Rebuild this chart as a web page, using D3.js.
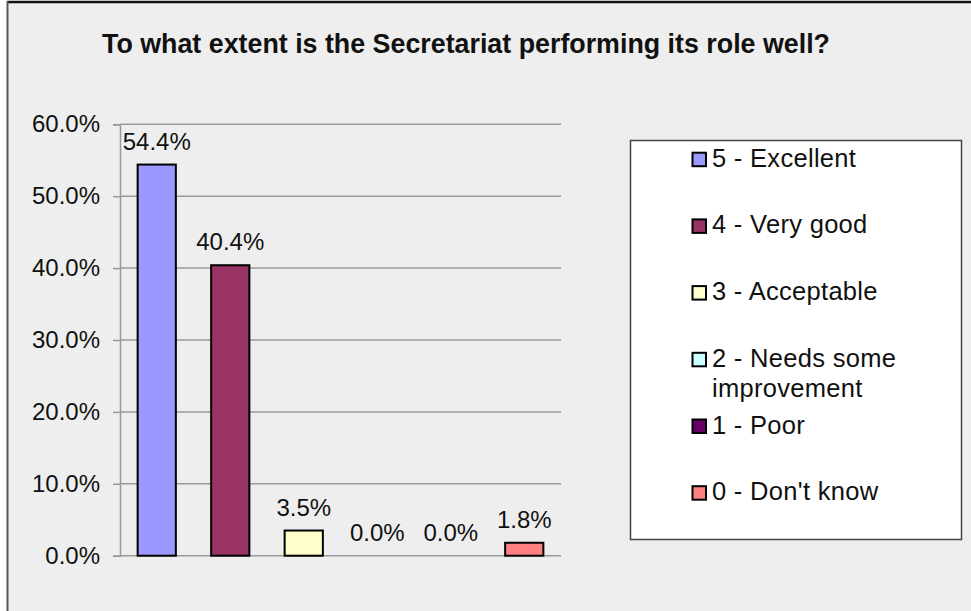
<!DOCTYPE html>
<html>
<head>
<meta charset="utf-8">
<script src="https://cdn.jsdelivr.net/npm/d3@7"></script>
<style>
  body { margin: 0; background: #fff; }
  text { font-family: "Liberation Sans", Arial, sans-serif; fill: #111; }
</style>
</head>
<body>
<svg id="chart" width="971" height="611"></svg>
<script>
// chart data
const categories = ["5 - Excellent", "4 - Very good", "3 - Acceptable", "2 - Needs some improvement", "1 - Poor", "0 - Don't know"];
const values = [0.544, 0.404, 0.035, 0.0, 0.0, 0.018];
const colors = ["#9999ff", "#993366", "#ffffcc", "#ccffff", "#660066", "#ff8080"];
const legendLines = [["5 - Excellent"], ["4 - Very good"], ["3 - Acceptable"], ["2 - Needs some", "improvement"], ["1 - Poor"], ["0 - Don't know"]];
const yTicks = [0, 0.1, 0.2, 0.3, 0.4, 0.5, 0.6];
const title = "To what extent is the Secretariat performing its role well?";

const svg = d3.select("#chart");
const fmt = d3.format(".1%");

// chart frame (cut off at right / bottom)
svg.append("rect").attr("x", 8).attr("y", 2).attr("width", 980).attr("height", 620).attr("fill", "#eeeeee");
svg.append("line").attr("x1", 7).attr("x2", 971).attr("y1", 2).attr("y2", 2).attr("stroke", "#111").attr("stroke-width", 2.5);
svg.append("line").attr("x1", 7.5).attr("x2", 7.5).attr("y1", 1).attr("y2", 611).attr("stroke", "#555").attr("stroke-width", 2);

// title (narrow face, squeezed to the reference width)
svg.append("text").attr("x", 466).attr("y", 53).attr("text-anchor", "middle")
    .attr("font-family", "'Liberation Sans Narrow', 'Liberation Sans', Arial, sans-serif")
    .attr("font-size", 28).attr("font-weight", "bold")
    .attr("textLength", 728).attr("lengthAdjust", "spacingAndGlyphs")
    .text(title);

const x = d3.scaleBand().domain(categories).range([120, 561]).paddingInner(0.48).paddingOuter(0.24);
const y = d3.scaleLinear().domain([0, 0.6]).range([555.7, 124.3]);

// gridlines + y axis
const yAxis = d3.axisLeft(y).tickValues(yTicks).tickFormat(fmt).tickSize(7).tickPadding(13);
const gy = svg.append("g").attr("transform", "translate(120,0)").call(yAxis);
gy.select(".domain").attr("stroke", "#999").attr("stroke-width", 1.5);
gy.selectAll(".tick line").attr("stroke", "#999").attr("stroke-width", 1.5);
gy.selectAll(".tick text").attr("font-size", 24).attr("font-family", "Liberation Sans, Arial, sans-serif").attr("fill", "#111");
svg.append("g").selectAll("line").data(yTicks).enter().append("line")
    .attr("x1", 120).attr("x2", 561)
    .attr("y1", d => y(d)).attr("y2", d => y(d))
    .attr("stroke", "#999").attr("stroke-width", 1.5);

// bars
const bars = categories.map((c, i) => ({ cat: c, v: values[i], color: colors[i] }));
svg.append("g").selectAll("rect").data(bars.filter(d => d.v > 0)).enter().append("rect")
    .attr("x", d => x(d.cat))
    .attr("y", d => y(d.v))
    .attr("width", x.bandwidth())
    .attr("height", d => y(0) - y(d.v))
    .attr("fill", d => d.color)
    .attr("stroke", "#000").attr("stroke-width", 2);

// value labels
svg.append("g").selectAll("text").data(bars).enter().append("text")
    .attr("x", d => x(d.cat) + x.bandwidth() / 2)
    .attr("y", d => y(d.v) - 15)
    .attr("text-anchor", "middle")
    .attr("font-size", 24)
    .text(d => fmt(d.v));

// legend
const lg = svg.append("g");
lg.append("rect").attr("x", 630.5).attr("y", 140.5).attr("width", 331).attr("height", 399)
    .attr("fill", "#fff").attr("stroke", "#444").attr("stroke-width", 1.5);
const item = lg.selectAll("g.item").data(bars).enter().append("g").attr("class", "item")
    .attr("transform", (d, i) => `translate(692,${166.7 + i * 66.7})`);
item.append("rect").attr("x", 0.5).attr("y", -14).attr("width", 13.5).attr("height", 13.5)
    .attr("fill", d => d.color).attr("stroke", "#000").attr("stroke-width", 2);
item.each(function (d, i) {
    d3.select(this).selectAll("text").data(legendLines[i]).enter().append("text")
        .attr("x", 20).attr("y", (s, j) => j * 30)
        .attr("font-size", 25.5).attr("letter-spacing", 0.3)
        .text(s => s);
});
</script>
</body>
</html>
